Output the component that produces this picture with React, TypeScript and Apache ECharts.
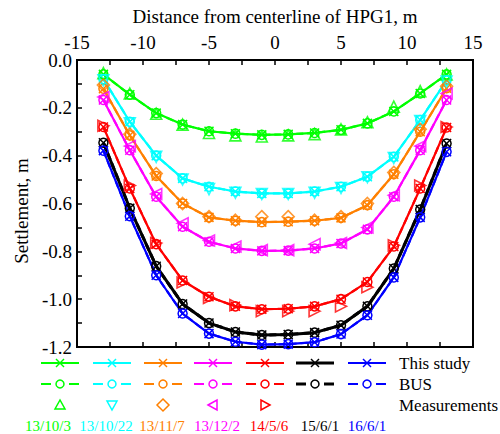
import React, { useEffect, useRef } from 'react';
import * as echarts from 'echarts';

// Distance from centerline of HPG1 (m)
const distances = [-13, -11, -9, -7, -5, -3, -1, 1, 3, 5, 7, 9, 11, 13];
const dates = ['13/10/3', '13/10/22', '13/11/7', '13/12/2', '14/5/6', '15/6/1', '16/6/1'];
const colors = ['#00ff00', '#00ffff', '#ff8000', '#ff00ff', '#ff0000', '#000000', '#0000ff'];
const xTicks = [-15, -10, -5, 0, 5, 10, 15];
const yTicks = [0.0, -0.2, -0.4, -0.6, -0.8, -1.0, -1.2];
const rowLabels = ['This study', 'BUS', 'Measurements'];

// This study (settlement, m)
const study131003 = [-0.06, -0.145, -0.222, -0.27, -0.298, -0.308, -0.313, -0.311, -0.305, -0.292, -0.265, -0.215, -0.14, -0.06];
const study131022 = [-0.08, -0.258, -0.4, -0.495, -0.53, -0.55, -0.558, -0.558, -0.55, -0.53, -0.488, -0.405, -0.251, -0.085];
const study131107 = [-0.12, -0.315, -0.485, -0.6, -0.658, -0.672, -0.678, -0.676, -0.672, -0.66, -0.607, -0.478, -0.3, -0.118];
const study131202 = [-0.167, -0.377, -0.572, -0.697, -0.76, -0.788, -0.798, -0.797, -0.788, -0.767, -0.708, -0.572, -0.377, -0.167];
const study140506 = [-0.28, -0.537, -0.77, -0.922, -0.99, -1.03, -1.042, -1.04, -1.03, -1.0, -0.928, -0.78, -0.537, -0.282];
const study150601 = [-0.346, -0.62, -0.862, -1.02, -1.1, -1.137, -1.15, -1.148, -1.14, -1.109, -1.03, -0.872, -0.625, -0.349];
const study160601 = [-0.379, -0.653, -0.9, -1.06, -1.144, -1.178, -1.19, -1.188, -1.18, -1.146, -1.067, -0.909, -0.658, -0.384];

// BUS (settlement, m)
const bus131003 = [-0.06, -0.145, -0.222, -0.27, -0.298, -0.308, -0.313, -0.311, -0.305, -0.292, -0.265, -0.215, -0.14, -0.06];
const bus131022 = [-0.08, -0.258, -0.4, -0.495, -0.53, -0.55, -0.558, -0.558, -0.55, -0.53, -0.488, -0.405, -0.251, -0.085];
const bus131107 = [-0.12, -0.315, -0.485, -0.6, -0.658, -0.672, -0.678, -0.676, -0.672, -0.66, -0.607, -0.478, -0.3, -0.118];
const bus131202 = [-0.167, -0.377, -0.572, -0.697, -0.76, -0.788, -0.798, -0.797, -0.788, -0.767, -0.708, -0.572, -0.377, -0.167];
const bus140506 = [-0.28, -0.537, -0.77, -0.922, -0.99, -1.03, -1.042, -1.04, -1.03, -1.0, -0.928, -0.78, -0.537, -0.282];
const bus150601 = [-0.346, -0.62, -0.862, -1.02, -1.1, -1.137, -1.15, -1.148, -1.14, -1.109, -1.03, -0.872, -0.625, -0.349];
const bus160601 = [-0.379, -0.653, -0.9, -1.06, -1.144, -1.178, -1.19, -1.188, -1.18, -1.146, -1.067, -0.909, -0.658, -0.384];

// Measurements (settlement, m)
const meas131003 = [-0.055, -0.14, -0.225, -0.27, -0.305, -0.315, -0.32, -0.315, -0.31, -0.29, -0.26, -0.195, -0.13, -0.06];
const meas131022 = [-0.085, -0.265, -0.405, -0.5, -0.54, -0.555, -0.56, -0.56, -0.555, -0.535, -0.49, -0.41, -0.255, -0.09];
const meas131107 = [-0.105, -0.31, -0.475, -0.6, -0.655, -0.67, -0.655, -0.655, -0.67, -0.655, -0.6, -0.47, -0.29, -0.11];
const meas131202 = [-0.155, -0.36, -0.56, -0.683, -0.755, -0.78, -0.795, -0.795, -0.77, -0.765, -0.7, -0.565, -0.36, -0.14];
const meas140506 = [-0.275, -0.525, -0.765, -0.93, -0.995, -1.025, -1.05, -1.05, -1.05, -1.03, -0.95, -0.775, -0.525, -0.28];

const studyData = [study131003, study131022, study131107, study131202, study140506, study150601, study160601];
const busData = [bus131003, bus131022, bus131107, bus131202, bus140506, bus150601, bus160601];
const measData = [meas131003, meas131022, meas131107, meas131202, meas140506];
const measSymbols = ['triangle', 'triangle', 'diamond', 'triangle', 'triangle'];
const measRotate = [0, 180, 0, 90, -90];

const FONT = 'Liberation Serif';
const CROSS = 'path://M0,0L10,10M10,0L0,10';

export default function App() {
  const ref = useRef<HTMLDivElement>(null);
  useEffect(() => {
    document.body.style.margin = '0';
    if (!ref.current) return;
    const chart = echarts.init(ref.current, null, { renderer: 'svg' });
    const pts = (arr: number[]) => distances.map((d, i) => [d, arr[i]]);

    const series: any[] = [];
    studyData.forEach((arr, i) => {
      const c = colors[i];
      series.push({
        name: 'This study ' + dates[i], type: 'line', data: pts(arr), xAxisIndex: 0,
        symbol: CROSS, symbolSize: 9,
        itemStyle: { color: c, borderColor: c, borderWidth: 1.5 },
        lineStyle: { color: c, width: i === 5 ? 3 : 2.2 }, z: 2,
      });
    });
    busData.forEach((arr, i) => {
      const c = colors[i];
      series.push({
        name: 'BUS ' + dates[i], type: 'line', data: pts(arr), xAxisIndex: 0,
        symbol: 'circle', symbolSize: 9,
        itemStyle: { color: 'transparent', borderColor: c, borderWidth: 1.5 },
        lineStyle: { color: c, width: i === 5 ? 3 : 2.2, type: [7, 4] }, z: 3,
      });
    });
    measData.forEach((arr, i) => {
      const c = colors[i];
      series.push({
        name: 'Measurements ' + dates[i], type: 'scatter', data: pts(arr), xAxisIndex: 0,
        symbol: measSymbols[i], symbolRotate: measRotate[i], symbolSize: i === 2 ? 12 : 11,
        itemStyle: { color: 'transparent', borderColor: c, borderWidth: 1.6 }, z: 4,
      });
    });

    // Legend drawn with graphics
    const colX = [60, 112, 163, 213, 265, 315, 367];
    const dateX = [48, 106, 162, 217, 269, 320, 367];
    const rowY = [363, 384, 405];
    const g: any[] = [];
    colX.forEach((cx, i) => {
      const c = colors[i];
      const w = i === 5 ? 3 : 2;
      const y1 = rowY[0];
      g.push({ type: 'line', shape: { x1: cx - 19, y1, x2: cx + 19, y2: y1 }, style: { stroke: c, lineWidth: w } });
      g.push({ type: 'line', shape: { x1: cx - 4, y1: y1 - 4, x2: cx + 4, y2: y1 + 4 }, style: { stroke: c, lineWidth: 1.5 } });
      g.push({ type: 'line', shape: { x1: cx + 4, y1: y1 - 4, x2: cx - 4, y2: y1 + 4 }, style: { stroke: c, lineWidth: 1.5 } });
      const y2 = rowY[1];
      g.push({ type: 'line', shape: { x1: cx - 19, y1: y2, x2: cx - 9, y2 }, style: { stroke: c, lineWidth: w } });
      g.push({ type: 'line', shape: { x1: cx + 9, y1: y2, x2: cx + 19, y2 }, style: { stroke: c, lineWidth: w } });
      g.push({ type: 'circle', shape: { cx, cy: y2, r: 4 }, style: { stroke: c, fill: 'none', lineWidth: 1.5 } });
      const y3 = rowY[2];
      let poly: number[][] | null = null;
      if (i === 0) poly = [[cx, y3 - 5], [cx - 5, y3 + 4], [cx + 5, y3 + 4]];
      if (i === 1) poly = [[cx - 5, y3 - 4], [cx + 5, y3 - 4], [cx, y3 + 5]];
      if (i === 2) poly = [[cx, y3 - 6], [cx + 6, y3], [cx, y3 + 6], [cx - 6, y3]];
      if (i === 3) poly = [[cx - 5, y3], [cx + 4, y3 - 5], [cx + 4, y3 + 5]];
      if (i === 4) poly = [[cx + 5, y3], [cx - 4, y3 - 5], [cx - 4, y3 + 5]];
      if (poly) g.push({ type: 'polygon', shape: { points: poly }, style: { stroke: c, fill: 'none', lineWidth: 1.5 } });
      g.push({ type: 'text', style: { text: dates[i], x: dateX[i], y: 426, fill: c, fontSize: 15, fontFamily: FONT, align: 'center', verticalAlign: 'middle' } });
    });
    rowLabels.forEach((t, k) => {
      g.push({ type: 'text', style: { text: t, x: 399, y: rowY[k], fill: '#000', fontSize: 17, fontFamily: FONT, align: 'left', verticalAlign: 'middle' } });
    });
    g.push({ type: 'text', style: { text: 'Distance from centerline of HPG1, m', x: 275, y: 16, fill: '#000', fontSize: 19, fontFamily: FONT, align: 'center', verticalAlign: 'middle' } });
    g.push({ type: 'text', rotation: Math.PI / 2, x: 21, y: 211, style: { text: 'Settlement, m', x: 0, y: 0, fill: '#000', fontSize: 19, fontFamily: FONT, align: 'center', verticalAlign: 'middle' } });

    const axisCommon = {
      axisLine: { show: true, onZero: false, lineStyle: { color: '#000', width: 2 } },
      axisTick: { show: true, inside: true, length: 5, lineStyle: { color: '#000', width: 1.5 } },
      splitLine: { show: false },
    };

    chart.setOption({
      animation: false,
      backgroundColor: '#fff',
      grid: { left: 77, right: 27, top: 60, bottom: 87, show: true, borderColor: '#000', borderWidth: 2, backgroundColor: 'transparent' },
      xAxis: [
        {
          type: 'value', position: 'top', min: -15, max: 15, interval: 2.5, ...axisCommon,
          axisLabel: {
            color: '#000', fontSize: 19, fontFamily: FONT, margin: 8,
            formatter: (v: number) => (xTicks.includes(v) ? String(v) : ''),
          },
        },
        {
          type: 'value', position: 'bottom', min: -15, max: 15, interval: 2.5, ...axisCommon,
          axisLabel: { show: false },
        },
      ],
      yAxis: {
        type: 'value', min: -1.2, max: 0, interval: 0.1, ...axisCommon,
        axisLabel: {
          color: '#000', fontSize: 19, fontFamily: FONT, margin: 5,
          formatter: (v: number) => {
            const k = Math.round(v * 10);
            const val = k / 10;
            if (!yTicks.some((t) => Math.abs(t - val) < 1e-9)) return '';
            return k === 0 ? '0.0' : val.toFixed(1);
          },
        },
      },
      graphic: g,
      series,
    });
    return () => chart.dispose();
  }, []);
  return <div ref={ref} style={{ width: 500, height: 434 }} />;
}
